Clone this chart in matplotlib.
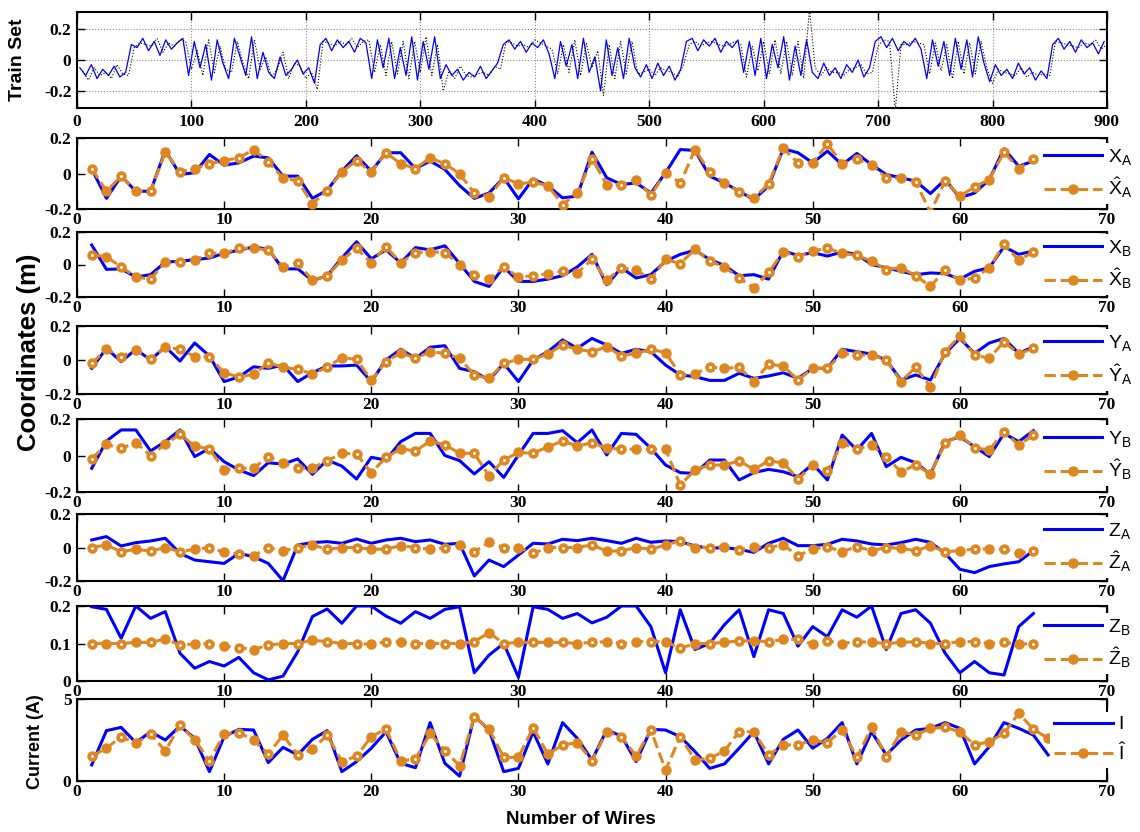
import numpy as np
import matplotlib
matplotlib.use("Agg")
import matplotlib.pyplot as plt
from matplotlib.ticker import FixedLocator, FixedFormatter

plt.rcParams['axes.unicode_minus'] = False
plt.rcParams['mathtext.fontset'] = 'custom'
plt.rcParams['mathtext.rm'] = 'Liberation Sans'
plt.rcParams['mathtext.it'] = 'Liberation Sans'

# ---------------- data ----------------
train_blue = [
    -0.05, -0.10, -0.03, -0.12, -0.06, -0.10, -0.04, -0.11, -0.08, 0.10,
    0.08, 0.14, 0.06, 0.12, 0.03, 0.13, 0.07, 0.11, 0.14, -0.10,
    0.12, -0.05, 0.10, -0.13, 0.13, -0.02, -0.12, 0.14, 0.02, -0.10,
    0.15, -0.12, 0.05, -0.08, -0.12, 0.02, -0.10, -0.06, 0.00, -0.09,
    -0.05, -0.15, 0.10, 0.14, 0.06, 0.13, 0.08, 0.12, 0.05, 0.14,
    0.11, -0.12, 0.13, -0.05, 0.14, -0.12, 0.08, -0.10, 0.15, -0.13,
    0.12, -0.06, 0.15, -0.12, -0.03, -0.10, -0.06, -0.13, -0.08, -0.11,
    -0.04, -0.12, -0.07, -0.02, 0.10, 0.13, 0.07, 0.12, 0.05, 0.11,
    0.08, 0.13, 0.04, -0.12, 0.12, -0.04, 0.10, -0.12, 0.14, -0.08,
    0.02, -0.20, 0.13, -0.10, 0.08, -0.12, 0.14, -0.05, -0.11, -0.03,
    -0.12, -0.02, -0.10, -0.04, -0.13, -0.06, 0.12, 0.14, 0.06, 0.13,
    0.09, 0.14, 0.05, 0.12, 0.08, 0.13, -0.08, 0.12, -0.10, 0.14,
    -0.12, 0.10, -0.05, 0.15, -0.13, 0.09, -0.10, 0.13, -0.08, -0.12,
    -0.02, -0.10, -0.05, -0.12, -0.03, -0.08, 0.00, -0.11, -0.05, 0.12,
    0.15, 0.08, 0.14, 0.06, 0.12, 0.09, 0.14, 0.07, -0.12, 0.13,
    -0.04, 0.12, -0.10, 0.14, -0.06, 0.13, -0.11, 0.15, -0.02, -0.14,
    -0.03, -0.10, -0.06, -0.12, -0.02, -0.09, -0.05, -0.13, -0.07, -0.12,
    0.10, 0.14, 0.07, 0.12, 0.05, 0.13, 0.08, 0.11, 0.04, 0.12]
train_black = [
    -0.07, -0.13, -0.05, -0.10, -0.08, -0.12, -0.03, -0.09, -0.10, 0.08,
    0.11, 0.10, 0.09, 0.14, 0.05, 0.11, 0.09, 0.13, 0.12, -0.06,
    0.06, -0.10, 0.13, -0.08, 0.09, -0.06, -0.08, 0.12, -0.02, -0.12,
    0.13, -0.06, 0.02, -0.11, -0.06, 0.05, -0.12, -0.02, -0.04, -0.12,
    -0.08, -0.19, 0.12, 0.11, 0.09, 0.12, 0.10, 0.14, 0.08, 0.12,
    0.13, -0.08, 0.10, -0.10, 0.12, -0.09, 0.12, -0.12, 0.12, -0.08,
    0.15, -0.10, 0.10, -0.20, -0.07, -0.12, -0.04, -0.10, -0.11, -0.09,
    -0.08, -0.10, -0.04, -0.06, 0.12, 0.11, 0.09, 0.10, 0.08, 0.13,
    0.11, 0.09, 0.07, -0.09, 0.10, -0.08, 0.13, -0.10, 0.11, -0.05,
    0.06, -0.23, 0.10, -0.12, 0.12, -0.09, 0.12, -0.09, -0.08, -0.06,
    -0.10, -0.05, -0.07, -0.08, -0.11, -0.03, 0.10, 0.12, 0.09, 0.11,
    0.12, 0.10, 0.09, 0.10, 0.12, 0.10, -0.11, 0.09, -0.07, 0.12,
    -0.09, 0.13, -0.09, 0.12, -0.10, 0.12, -0.12, 0.33, -0.05, -0.10,
    -0.05, -0.08, -0.08, -0.10, -0.06, -0.05, -0.03, -0.09, -0.08, 0.09,
    0.13, 0.12, -0.33, 0.10, 0.10, 0.12, 0.11, 0.10, -0.09, 0.11,
    -0.07, 0.10, -0.12, 0.12, -0.09, 0.11, -0.09, 0.12, -0.05, -0.15,
    -0.06, -0.08, -0.09, -0.10, -0.05, -0.11, -0.08, -0.10, -0.09, -0.10,
    0.12, 0.11, 0.10, 0.09, 0.08, 0.11, 0.10, 0.13, 0.07, 0.10]
train_step = 5

xa_true = [0.026, -0.14, -0.015, -0.10, -0.10, 0.13, -0.005, 0.004, 0.107, 0.047,
           0.06, 0.098, 0.088, -0.015, -0.015, -0.14, -0.094, 0.013, 0.10, 0.013,
           0.117, 0.117, 0.028, 0.07, 0.023, -0.068, -0.14, -0.11, -0.024, -0.143,
           -0.03, -0.07, -0.137, -0.128, 0.12, -0.024, -0.062, -0.053, -0.11, 0.004,
           0.135, 0.13, -0.015, -0.053, -0.10, -0.147, -0.07, 0.139, 0.117, 0.06,
           0.126, 0.05, 0.113, 0.05, -0.006, -0.024, -0.043, -0.113, -0.034, -0.137,
           -0.11, -0.034, 0.139, 0.041, 0.07]
xa_pred = [0.028, -0.10, -0.015, -0.10, -0.10, 0.12, 0.01, 0.028, 0.055, 0.073,
           0.088, 0.135, 0.064, -0.024, -0.043, -0.17, -0.096, 0.009, 0.073, 0.008,
           0.117, 0.055, 0.028, 0.088, 0.055, -0.002, -0.11, -0.13, -0.024, -0.058,
           -0.049, -0.068, -0.175, -0.11, 0.083, -0.062, -0.062, -0.034, -0.122, 0.004,
           -0.053, 0.135, 0.009, -0.053, -0.103, -0.14, -0.058, 0.141, 0.06, 0.06,
           0.167, 0.055, 0.079, 0.05, -0.024, -0.024, -0.047, -0.22, -0.04, -0.128,
           -0.075, -0.034, 0.12, 0.028, 0.08]
xb_true = [0.12, -0.03, -0.027, -0.077, -0.0625, 0.015, 0.02, 0.03, 0.04, 0.069,
           0.088, 0.108, 0.094, -0.027, -0.027, -0.098, -0.07, 0.04, 0.14, 0.035,
           0.09, 0.01, 0.104, 0.09, 0.115, 0.006, -0.104, -0.135, -0.015, -0.104,
           -0.104, -0.09, -0.069, -0.015, 0.0625, -0.125, -0.02, -0.083, -0.0625, 0.02,
           0.0625, 0.0875, 0.031, -0.006, -0.069, -0.0625, -0.09, 0.083, 0.056, 0.073,
           0.052, 0.077, 0.0625, 0.0, -0.02, -0.042, -0.0625, -0.052, -0.056, -0.09,
           -0.042, -0.02, 0.11, 0.0625, 0.083]
xb_pred = [0.06, 0.048, -0.015, -0.077, -0.09, 0.015, 0.015, 0.027, 0.069, 0.069,
           0.10, 0.10, 0.09, -0.015, 0.01, -0.098, -0.07, 0.027, 0.10, 0.01,
           0.11, 0.01, 0.073, 0.079, 0.073, 0.0, -0.0625, -0.09, -0.015, -0.077,
           -0.069, -0.056, -0.042, -0.052, 0.031, -0.098, -0.02, -0.035, -0.09, 0.031,
           0.006, 0.094, 0.02, -0.015, -0.083, -0.146, -0.048, 0.077, 0.048, 0.083,
           0.10, 0.069, 0.056, 0.02, -0.031, -0.02, -0.069, -0.135, -0.035, -0.098,
           -0.083, -0.02, 0.125, 0.027, 0.077]
ya_true = [-0.049, 0.069, -0.01, 0.063, 0.0, 0.078, -0.006, 0.10, 0.024, -0.127,
           -0.10, -0.04, -0.049, -0.03, -0.127, -0.075, -0.035, -0.035, -0.03, -0.127,
           0.0, 0.063, 0.01, 0.075, 0.084, -0.049, -0.069, -0.118, -0.02, -0.127,
           0.0, 0.049, 0.118, 0.069, 0.127, 0.088, 0.039, 0.063, 0.049, -0.03,
           -0.088, -0.098, -0.12, -0.12, -0.078, -0.108, -0.094, -0.075, -0.108, -0.049,
           -0.049, 0.063, 0.049, 0.035, 0.0, -0.118, -0.088, -0.118, 0.039, 0.127,
           0.039, 0.10, 0.127, 0.039, 0.078]
ya_pred = [-0.02, 0.063, 0.02, 0.059, 0.004, 0.075, 0.063, 0.02, 0.02, -0.075,
           -0.10, -0.084, -0.016, -0.043, -0.055, -0.082, -0.043, 0.014, 0.004, -0.118,
           -0.01, 0.043, 0.01, 0.049, 0.039, 0.01, -0.088, -0.108, -0.02, 0.004,
           0.004, 0.035, 0.088, 0.063, 0.049, 0.078, 0.024, 0.039, 0.063, 0.043,
           -0.088, -0.082, -0.04, -0.049, -0.043, -0.127, -0.025, -0.035, -0.118, -0.049,
           -0.049, 0.039, 0.029, 0.029, 0.0, -0.127, -0.043, -0.157, 0.049, 0.141,
           0.029, 0.01, 0.108, 0.035, 0.069]
yb_true = [-0.07, 0.079, 0.14, 0.14, 0.025, 0.076, 0.14, -0.006, 0.039, -0.034,
           -0.079, -0.11, -0.04, -0.047, -0.019, -0.103, -0.025, -0.058, -0.129, -0.01,
           -0.025, 0.076, 0.121, 0.121, 0.0, -0.028, -0.101, -0.034, -0.12, 0.003,
           0.121, 0.121, 0.136, 0.07, 0.14, 0.003, 0.121, 0.116, 0.039, -0.052,
           -0.094, -0.098, -0.025, -0.025, -0.134, -0.094, -0.076, -0.089, -0.116, -0.047,
           -0.134, 0.112, 0.03, 0.121, -0.061, -0.01, -0.04, -0.103, 0.076, 0.103,
           0.048, -0.006, 0.121, 0.076, 0.136]
yb_pred = [-0.019, 0.061, 0.039, 0.07, 0.0, 0.063, 0.116, 0.052, 0.036, -0.079,
           -0.07, -0.07, -0.006, -0.04, -0.07, -0.067, -0.03, 0.012, 0.008, -0.094,
           -0.01, 0.036, 0.025, 0.079, 0.058, 0.012, 0.012, -0.112, -0.025, 0.017,
           0.012, 0.048, 0.079, 0.052, 0.07, 0.039, 0.036, 0.034, 0.034, 0.034,
           -0.162, -0.079, -0.052, -0.052, -0.03, -0.076, -0.03, -0.04, -0.129, -0.052,
           -0.083, 0.067, 0.034, 0.058, -0.01, -0.089, -0.052, -0.101, 0.067, 0.112,
           0.043, 0.03, 0.13, 0.058, 0.112]
za_true = [0.045, 0.065, 0.009, 0.029, 0.039, 0.055, -0.035, -0.075, -0.085, -0.095,
           -0.035, -0.055, -0.095, -0.198, 0.015, 0.029, 0.035, 0.025, 0.051, 0.025,
           0.045, 0.055, 0.035, 0.045, 0.019, 0.025, -0.17, -0.075, -0.114, -0.045,
           0.025, 0.021, 0.049, 0.041, 0.055, 0.041, 0.025, 0.055, 0.031, 0.039,
           0.035, 0.009, -0.005, 0.0, -0.011, -0.029, 0.025, 0.055, 0.011, 0.011,
           0.019, 0.049, 0.039, 0.021, 0.015, 0.029, 0.049, 0.031, -0.035, -0.13,
           -0.15, -0.114, -0.098, -0.085, -0.019]
za_pred = [0.0, 0.015, -0.025, -0.011, -0.021, 0.0, -0.025, -0.011, 0.0, -0.029,
           -0.039, -0.049, 0.0, -0.021, 0.0, 0.015, -0.011, 0.0, 0.0, -0.011,
           -0.009, 0.011, 0.0, -0.011, 0.0, 0.015, -0.025, 0.031, 0.0, 0.0,
           -0.035, 0.0, 0.0, 0.0, 0.015, -0.021, -0.021, 0.0, -0.011, 0.015,
           0.041, 0.0, 0.0, 0.005, -0.015, 0.005, 0.0, 0.015, -0.049, -0.009,
           0.005, -0.025, 0.005, -0.019, 0.0, -0.005, -0.019, 0.009, -0.025, -0.019,
           -0.009, -0.009, -0.011, -0.035, -0.019]
zb_true = [0.198, 0.191, 0.114, 0.2, 0.167, 0.185, 0.074, 0.034, 0.052, 0.04,
           0.063, 0.022, 0.003, 0.013, 0.078, 0.172, 0.192, 0.154, 0.2, 0.2,
           0.173, 0.154, 0.185, 0.167, 0.191, 0.198, 0.022, 0.069, 0.10, 0.01,
           0.198, 0.191, 0.167, 0.18, 0.155, 0.17, 0.2, 0.2, 0.145, 0.022,
           0.19, 0.084, 0.10, 0.15, 0.19, 0.065, 0.19, 0.18, 0.093, 0.145,
           0.118, 0.19, 0.17, 0.2, 0.084, 0.18, 0.19, 0.154, 0.074, 0.022,
           0.052, 0.022, 0.016, 0.145, 0.18]
zb_pred = [0.10, 0.10, 0.10, 0.103, 0.103, 0.112, 0.096, 0.099, 0.10, 0.093,
           0.089, 0.084, 0.096, 0.10, 0.10, 0.109, 0.105, 0.10, 0.10, 0.098,
           0.105, 0.105, 0.10, 0.10, 0.10, 0.10, 0.105, 0.129, 0.10, 0.103,
           0.103, 0.103, 0.103, 0.10, 0.103, 0.105, 0.10, 0.105, 0.105, 0.105,
           0.087, 0.10, 0.10, 0.103, 0.107, 0.107, 0.105, 0.111, 0.111, 0.098,
           0.107, 0.10, 0.105, 0.103, 0.10, 0.103, 0.105, 0.10, 0.10, 0.105,
           0.105, 0.10, 0.103, 0.098, 0.10]
i_true = [0.98, 3.07, 3.27, 2.34, 3.0, 2.5, 3.35, 2.6, 0.57, 2.7,
          3.15, 3.11, 1.12, 2.05, 1.59, 2.54, 3.07, 0.57, 1.18, 2.0,
          3.0, 1.08, 0.81, 3.56, 1.08, 0.3, 3.96, 3.11, 0.57, 0.77,
          3.0, 1.04, 3.56, 2.6, 1.28, 3.11, 2.74, 1.18, 3.15, 3.11,
          2.7, 1.79, 0.77, 1.04, 2.0, 3.0, 1.04, 2.54, 3.11, 2.0,
          2.6, 3.56, 1.04, 3.0, 1.59, 2.5, 3.11, 3.21, 3.56, 3.21,
          1.04, 2.09, 3.56, 3.21, 2.8, 1.59]
i_pred = [1.52, 2.0, 2.7, 2.3, 2.87, 1.83, 3.41, 2.5, 1.24, 2.87,
          2.95, 2.5, 1.65, 2.8, 1.59, 1.93, 2.8, 1.18, 1.52, 2.7,
          3.17, 1.24, 1.32, 2.9, 1.85, 0.93, 3.92, 3.15, 1.44, 1.44,
          3.25, 1.63, 2.2, 2.34, 1.24, 3.0, 2.7, 1.52, 3.11, 0.67,
          2.7, 1.28, 1.38, 1.83, 3.0, 3.0, 1.59, 2.2, 2.2, 2.5,
          2.34, 3.11, 1.44, 3.27, 1.48, 3.0, 2.8, 3.21, 3.27, 3.0,
          2.2, 2.4, 2.9, 4.13, 3.15, 2.6]

panels = [
    (xa_true, xa_pred, 'X', 'A'),
    (xb_true, xb_pred, 'X', 'B'),
    (ya_true, ya_pred, 'Y', 'A'),
    (yb_true, yb_pred, 'Y', 'B'),
    (za_true, za_pred, 'Z', 'A'),
    (zb_true, zb_pred, 'Z', 'B'),
    (i_true, i_pred, 'I', ''),
]

# ---------------- style ----------------
BLUE = '#0000FF'
ORANGE = '#DE8620'
TICKFONT = dict(family='Liberation Serif', weight='bold', size=12.5)
LABFONT = dict(family='Liberation Sans', weight='bold')

W, H = 1140, 832
fig = plt.figure(figsize=(W / 100, H / 100), dpi=100)

def box(top, bottom, left=77, right=1107):
    return [left / W, 1 - bottom / H, (right - left) / W, (bottom - top) / H]

def style_axes(ax):
    for s in ax.spines.values():
        s.set_linewidth(1.5)
    ax.tick_params(direction='in', top=True, right=True, length=6, width=1,
                   pad=4)
    for lab in ax.get_xticklabels() + ax.get_yticklabels():
        lab.set_fontfamily(TICKFONT['family'])
        lab.set_fontweight(TICKFONT['weight'])
        lab.set_fontsize(TICKFONT['size'])

# top panel
ax0 = fig.add_axes(box(12, 108))
xb = np.arange(len(train_blue)) * train_step + 2.5
xk = np.arange(len(train_black)) * train_step + 5.0
ax0.plot(xb, train_blue, color=BLUE, lw=0.9)
ax0.plot(xk, train_black, color='black', lw=0.8, ls=':')
ax0.set_xlim(0, 900)
ax0.set_ylim(-0.31, 0.31)
ax0.xaxis.set_major_locator(FixedLocator(np.arange(0, 901, 100)))
ax0.yaxis.set_major_locator(FixedLocator([-0.2, 0, 0.2]))
ax0.yaxis.set_major_formatter(FixedFormatter(['-0.2', '0', '0.2']))
ax0.grid(True, color='#888888', ls=':', lw=0.8)
style_axes(ax0)

# subpanels
rows = [(138, 209), (232, 297), (326, 394), (419, 492), (514, 581),
        (606, 681), (699, 781)]
for k, ((top, bot), (yt, yp, name, sub)) in enumerate(zip(rows, panels)):
    ax = fig.add_axes(box(top, bot))
    x = np.arange(1, len(yt) + 1)
    if sub:
        lab_t = r'$\mathrm{%s}_{\mathrm{%s}}$' % (name, sub)
        lab_p = r'$\hat{\mathrm{%s}}_{\mathrm{%s}}$' % (name, sub)
    else:
        lab_t = r'$\mathrm{%s}$' % name
        lab_p = r'$\hat{\mathrm{%s}}$' % name
    ax.plot(x, yt, color=BLUE, lw=2.2, label=lab_t, zorder=3)
    ax.plot(x, yp, color=ORANGE, lw=2.2, ls='--', marker='o', ms=6.5,
            label=lab_p, zorder=4)
    ax.plot(x[::2], np.asarray(yp)[::2], ls='none', marker='o', ms=2.2,
            mew=0, color='white', zorder=5)
    ax.set_xlim(0, 70)
    ax.xaxis.set_major_locator(FixedLocator(np.arange(0, 71, 10)))
    if k < 5:
        ax.set_ylim(-0.2, 0.2)
        ax.yaxis.set_major_locator(FixedLocator([-0.2, 0, 0.2]))
        ax.yaxis.set_major_formatter(FixedFormatter(['-0.2', '0', '0.2']))
    elif k == 5:
        ax.set_ylim(0, 0.2)
        ax.yaxis.set_major_locator(FixedLocator([0, 0.1, 0.2]))
        ax.yaxis.set_major_formatter(FixedFormatter(['0', '0.1', '0.2']))
    else:
        ax.set_ylim(0, 5)
        ax.yaxis.set_major_locator(FixedLocator([0, 5]))
        ax.yaxis.set_major_formatter(FixedFormatter(['0', '5']))
    style_axes(ax)
    ax.tick_params(axis='x', pad=2)
    anchor_x = 0.945 if k == 6 else 0.935
    leg = ax.legend(loc='center left', bbox_to_anchor=(anchor_x, 0.5),
                    borderaxespad=0, frameon=True, fancybox=False,
                    facecolor='white', edgecolor='none', framealpha=1,
                    handlelength=3.0, handletextpad=0.3, borderpad=0.2,
                    labelspacing=0.45, prop={'family': 'Liberation Sans', 'size': 14})
    leg.set_zorder(10)

fig.text(18 / W, 1 - 60 / H, 'Train Set', rotation=90, ha='center', va='center',
         fontsize=14, **LABFONT)
fig.text(29 / W, 1 - 352 / H, 'Coordinates (m)', rotation=90, ha='center',
         va='center', fontsize=18.5, **LABFONT)
fig.text(36 / W, 1 - 742 / H, 'Current (A)', rotation=90, ha='center',
         va='center', fontsize=13, **LABFONT)
fig.text(581 / W, 1 - 820 / H, 'Number of Wires', ha='center', va='center',
         fontsize=13.5, **LABFONT)

fig.savefig('out.png', dpi=100)
